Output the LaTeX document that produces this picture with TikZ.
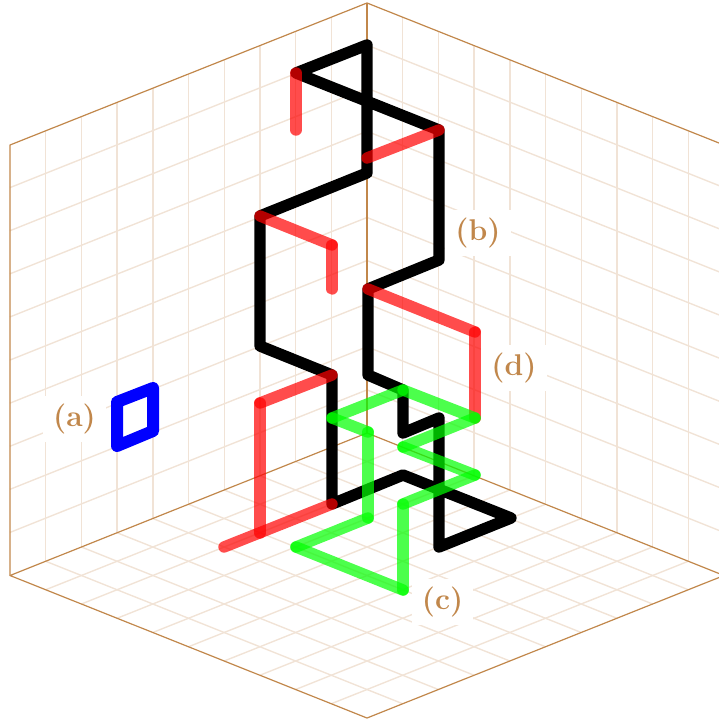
\documentclass[tikz,border=0pt]{standalone}
\definecolor{frameC}{RGB}{193,135,75}
\tikzset{
  gridline/.style={frameC!23!white,line width=1.4pt},
  frameline/.style={frameC,line width=1.2pt},
  blackpath/.style={black,line width=11.4pt,line join=round,line cap=round},
  bluepath/.style={blue,line width=12pt,line join=round,line cap=round},
  redseg/.style={red,opacity=.7,line width=11.4pt,line cap=round},
  greenseg/.style={green,opacity=.7,line width=11.4pt,line cap=round},
  tag/.style={fill=white,text=frameC,inner xsep=10pt,inner ysep=8pt,font=\fontsize{30}{34}\selectfont\bfseries}
}
\begin{document}
\begin{tikzpicture}[x=1pt,y=-1pt]
\useasboundingbox (0,0) rectangle (719,719);
\clip (0,0) rectangle (719,719);
% walls and floor grid
\foreach \k in {1,...,9}{
  \pgfmathsetmacro{\dx}{35.7*\k}
  \pgfmathsetmacro{\dy}{14.25*\k}
  \pgfmathsetmacro{\dz}{43.1*\k}
  % left wall
  \draw[gridline] (367-\dx,433+\dy) -- (367-\dx,3+\dy);
  \draw[gridline] (367,433-\dz) -- (10,575.5-\dz);
  % right wall
  \draw[gridline] (367+\dx,433+\dy) -- (367+\dx,3+\dy);
  \draw[gridline] (367,433-\dz) -- (724,575.5-\dz);
  % floor
  \draw[gridline] (367-\dx,433+\dy) -- (724-\dx,575.5+\dy);
  \draw[gridline] (367+\dx,433+\dy) -- (10+\dx,575.5+\dy);
}
% frame
\draw[frameline,line join=round] (10,575.5) -- (10,145) -- (367,3) -- (724,145);
\draw[frameline] (367,3) -- (367,433);
\draw[frameline,line join=round] (10,575.5) -- (367,433) -- (724,575.5) -- (367,718) -- cycle;
% blue square
\draw[bluepath] (117,446) -- (117,402) -- (153,388) -- (153,431) -- cycle;
% black loop
\draw[blackpath] (296,73) -- (367,45) -- (367,173) -- (260,216) -- (260,346) -- (332,375)
  -- (332,504) -- (403,475) -- (511,518) -- (439,547) -- (439,418) -- (403,433)
  -- (403,390) -- (368,375) -- (368,289) -- (439,260) -- (439,130) -- cycle;
% red segments
\draw[redseg] (296,130) -- (296,73);
\draw[redseg] (367,158) -- (439,130);
\draw[redseg] (332,289) -- (332,245);
\draw[redseg] (332,245) -- (260,216);
\draw[redseg] (368,289) -- (475,332);
\draw[redseg] (475,332) -- (475,418);
\draw[redseg] (260,533) -- (260,403);
\draw[redseg] (260,403) -- (332,375);
\draw[redseg] (224,547) -- (332,504);
% green segments
\draw[greenseg] (475,418) -- (403,390);
\draw[greenseg] (403,390) -- (332,418);
\draw[greenseg] (332,418) -- (368,432);
\draw[greenseg] (368,432) -- (368,518);
\draw[greenseg] (368,518) -- (296,547);
\draw[greenseg] (296,547) -- (403,590);
\draw[greenseg] (403,590) -- (403,504);
\draw[greenseg] (403,504) -- (475,475);
\draw[greenseg] (475,475) -- (403,447);
\draw[greenseg] (403,447) -- (475,418);
% labels
\node[tag] (a) at (74.5,419) {(a)};
\node[tag] (b) at (478,233) {(b)};
\node[tag] (c) at (442.5,602) {(c)};
\node[tag] (d) at (514,368) {(d)};
\end{tikzpicture}
\end{document}
